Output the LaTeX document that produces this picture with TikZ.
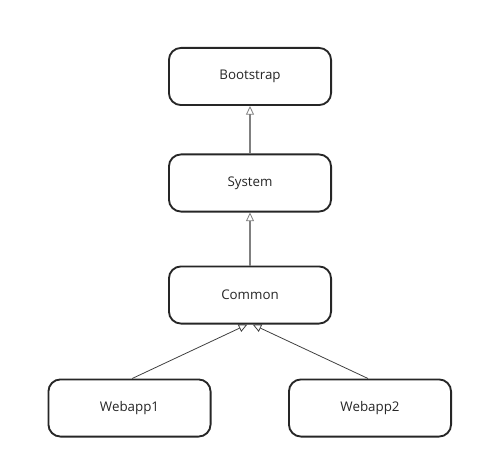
\documentclass[tikz,border=0pt]{standalone}
\usepackage{fontspec}
\setmainfont{Open Sans}
\usetikzlibrary{arrows.meta}
\begin{document}
\begin{tikzpicture}[x=0.75pt,y=-0.75pt,
  box/.style={draw=black!85, line width=1.4pt, rounded corners=9pt, minimum width=164*0.75pt-1.4pt, minimum height=59*0.75pt-1.4pt, inner sep=0pt, font=\fontsize{10}{12}\selectfont, text=black!85},
  inh/.style={-{Triangle[open, length=6.5pt, width=6pt, line width=0.6pt]}, line width=0.8pt},
  vinh/.style={inh, draw=black!50},
  dinh/.style={inh, draw=black!75, line width=0.6pt}]
\useasboundingbox (0,0) rectangle (484,470);
\node[box] (bs) at (250,76.5) {Bootstrap};
\node[box] (sys) at (250,183) {System};
\node[box] (cm) at (250,295) {Common};
\node[box] (w1) at (129.5,408) {Webapp1};
\node[box] (w2) at (370,408) {Webapp2};
\draw[vinh] (sys) -- (bs);
\draw[vinh] (cm) -- (sys);
\draw[dinh] ([xshift=2pt]w1.north) -- ([xshift=-2pt]cm.south);
\draw[dinh] ([xshift=-1.5pt]w2.north) -- ([xshift=2pt]cm.south);
\end{tikzpicture}
\end{document}
